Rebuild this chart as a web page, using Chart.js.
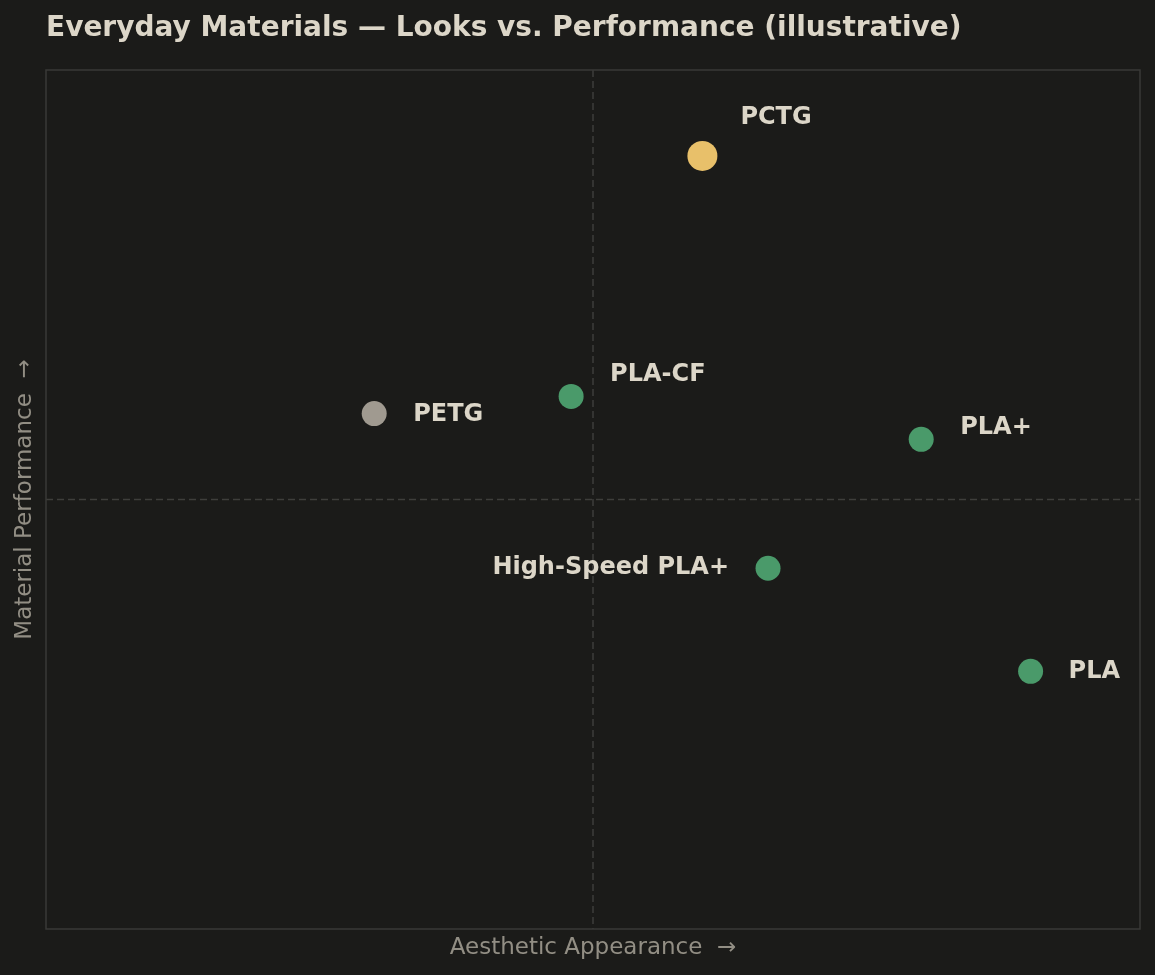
<!DOCTYPE html>
<html>
<head>
<meta charset="utf-8">
<script src="https://cdn.jsdelivr.net/npm/chart.js@4.4.1/dist/chart.umd.min.js"></script>
<style>
  html, body { margin: 0; padding: 0; background: #1b1b19; }
  #wrap { width: 1155px; height: 975px; }
</style>
</head>
<body>
<div id="wrap"><canvas id="chart"></canvas></div>
<script>
// materials, placed on looks (x) vs performance (y), 0..10
const materials = ['PCTG', 'PETG', 'PLA-CF', 'PLA+', 'High-Speed PLA+', 'PLA'];
const aesthetic = [6.0, 3.0, 4.8, 8.0, 6.6, 9.0];
const performance = [9.0, 6.0, 6.2, 5.7, 4.2, 3.0];
const group = ['highlight', 'neutral', 'pla', 'pla', 'pla', 'pla'];

const axisMin = 0;
const axisMax = 10;
const axisMid = 5;

// label placement next to each dot (pixels)
const labelOffset = [
    [38, -38, 'left'],
    [39, 1, 'left'],
    [39, -22, 'left'],
    [39, -12, 'left'],
    [-39, 0, 'right'],
    [38, 0, 'left']
];

const colors = { highlight: '#e8c06a', neutral: '#a09a90', pla: '#4a9a6a' };
const radii = { highlight: 15, neutral: 12.5, pla: 12.5 };

const FONT = '"DejaVu Sans", sans-serif';

const points = materials.map((m, i) => ({ x: aesthetic[i], y: performance[i], label: m }));

const decorPlugin = {
    id: 'decor',
    beforeDatasetsDraw(chart) {
        const { ctx, chartArea: a, scales } = chart;
        ctx.save();
        // quadrant lines
        ctx.strokeStyle = '#3e3e3b';
        ctx.lineWidth = 1.5;
        ctx.setLineDash([7, 4]);
        const mx = scales.x.getPixelForValue(axisMid);
        const my = scales.y.getPixelForValue(axisMid);
        ctx.beginPath();
        ctx.moveTo(mx, a.top); ctx.lineTo(mx, a.bottom);
        ctx.moveTo(a.left, my); ctx.lineTo(a.right, my);
        ctx.stroke();
        // frame
        ctx.setLineDash([]);
        ctx.strokeStyle = '#3a3a37';
        ctx.lineWidth = 1.5;
        ctx.strokeRect(a.left, a.top, a.right - a.left, a.bottom - a.top);
        ctx.restore();
    },
    afterDatasetsDraw(chart) {
        const { ctx, chartArea: a } = chart;
        const meta = chart.getDatasetMeta(0);
        ctx.save();
        // point labels
        ctx.font = 'bold 24px ' + FONT;
        ctx.fillStyle = '#dcd6c8';
        ctx.textBaseline = 'middle';
        meta.data.forEach((el, i) => {
            const [dx, dy, align] = labelOffset[i];
            ctx.textAlign = align;
            ctx.fillText(materials[i], el.x + dx, el.y + dy);
        });
        // title
        ctx.textAlign = 'left';
        ctx.textBaseline = 'middle';
        ctx.font = 'bold 28px ' + FONT;
        ctx.fillText('Everyday Materials \u2014 Looks vs. Performance (illustrative)', a.left, 29);
        // axis titles
        ctx.font = '23px ' + FONT;
        ctx.fillStyle = '#928e84';
        ctx.textAlign = 'center';
        ctx.fillText('Aesthetic Appearance  \u2192', (a.left + a.right) / 2, 948);
        ctx.translate(25, (a.top + a.bottom) / 2);
        ctx.rotate(-Math.PI / 2);
        ctx.fillText('Material Performance  \u2192', 0, 0);
        ctx.restore();
    }
};

new Chart(document.getElementById('chart'), {
    type: 'scatter',
    data: {
        datasets: [{
            data: points,
            backgroundColor: group.map(g => colors[g]),
            borderWidth: 0,
            pointRadius: group.map(g => radii[g]),
            pointHoverRadius: group.map(g => radii[g])
        }]
    },
    options: {
        responsive: true,
        maintainAspectRatio: false,
        animation: false,
        layout: { padding: { left: 46, right: 15, top: 70, bottom: 46 } },
        scales: {
            x: { display: false, min: axisMin, max: axisMax },
            y: { display: false, min: axisMin, max: axisMax }
        },
        plugins: {
            legend: { display: false },
            tooltip: { enabled: false }
        }
    },
    plugins: [decorPlugin]
});
</script>
</body>
</html>
